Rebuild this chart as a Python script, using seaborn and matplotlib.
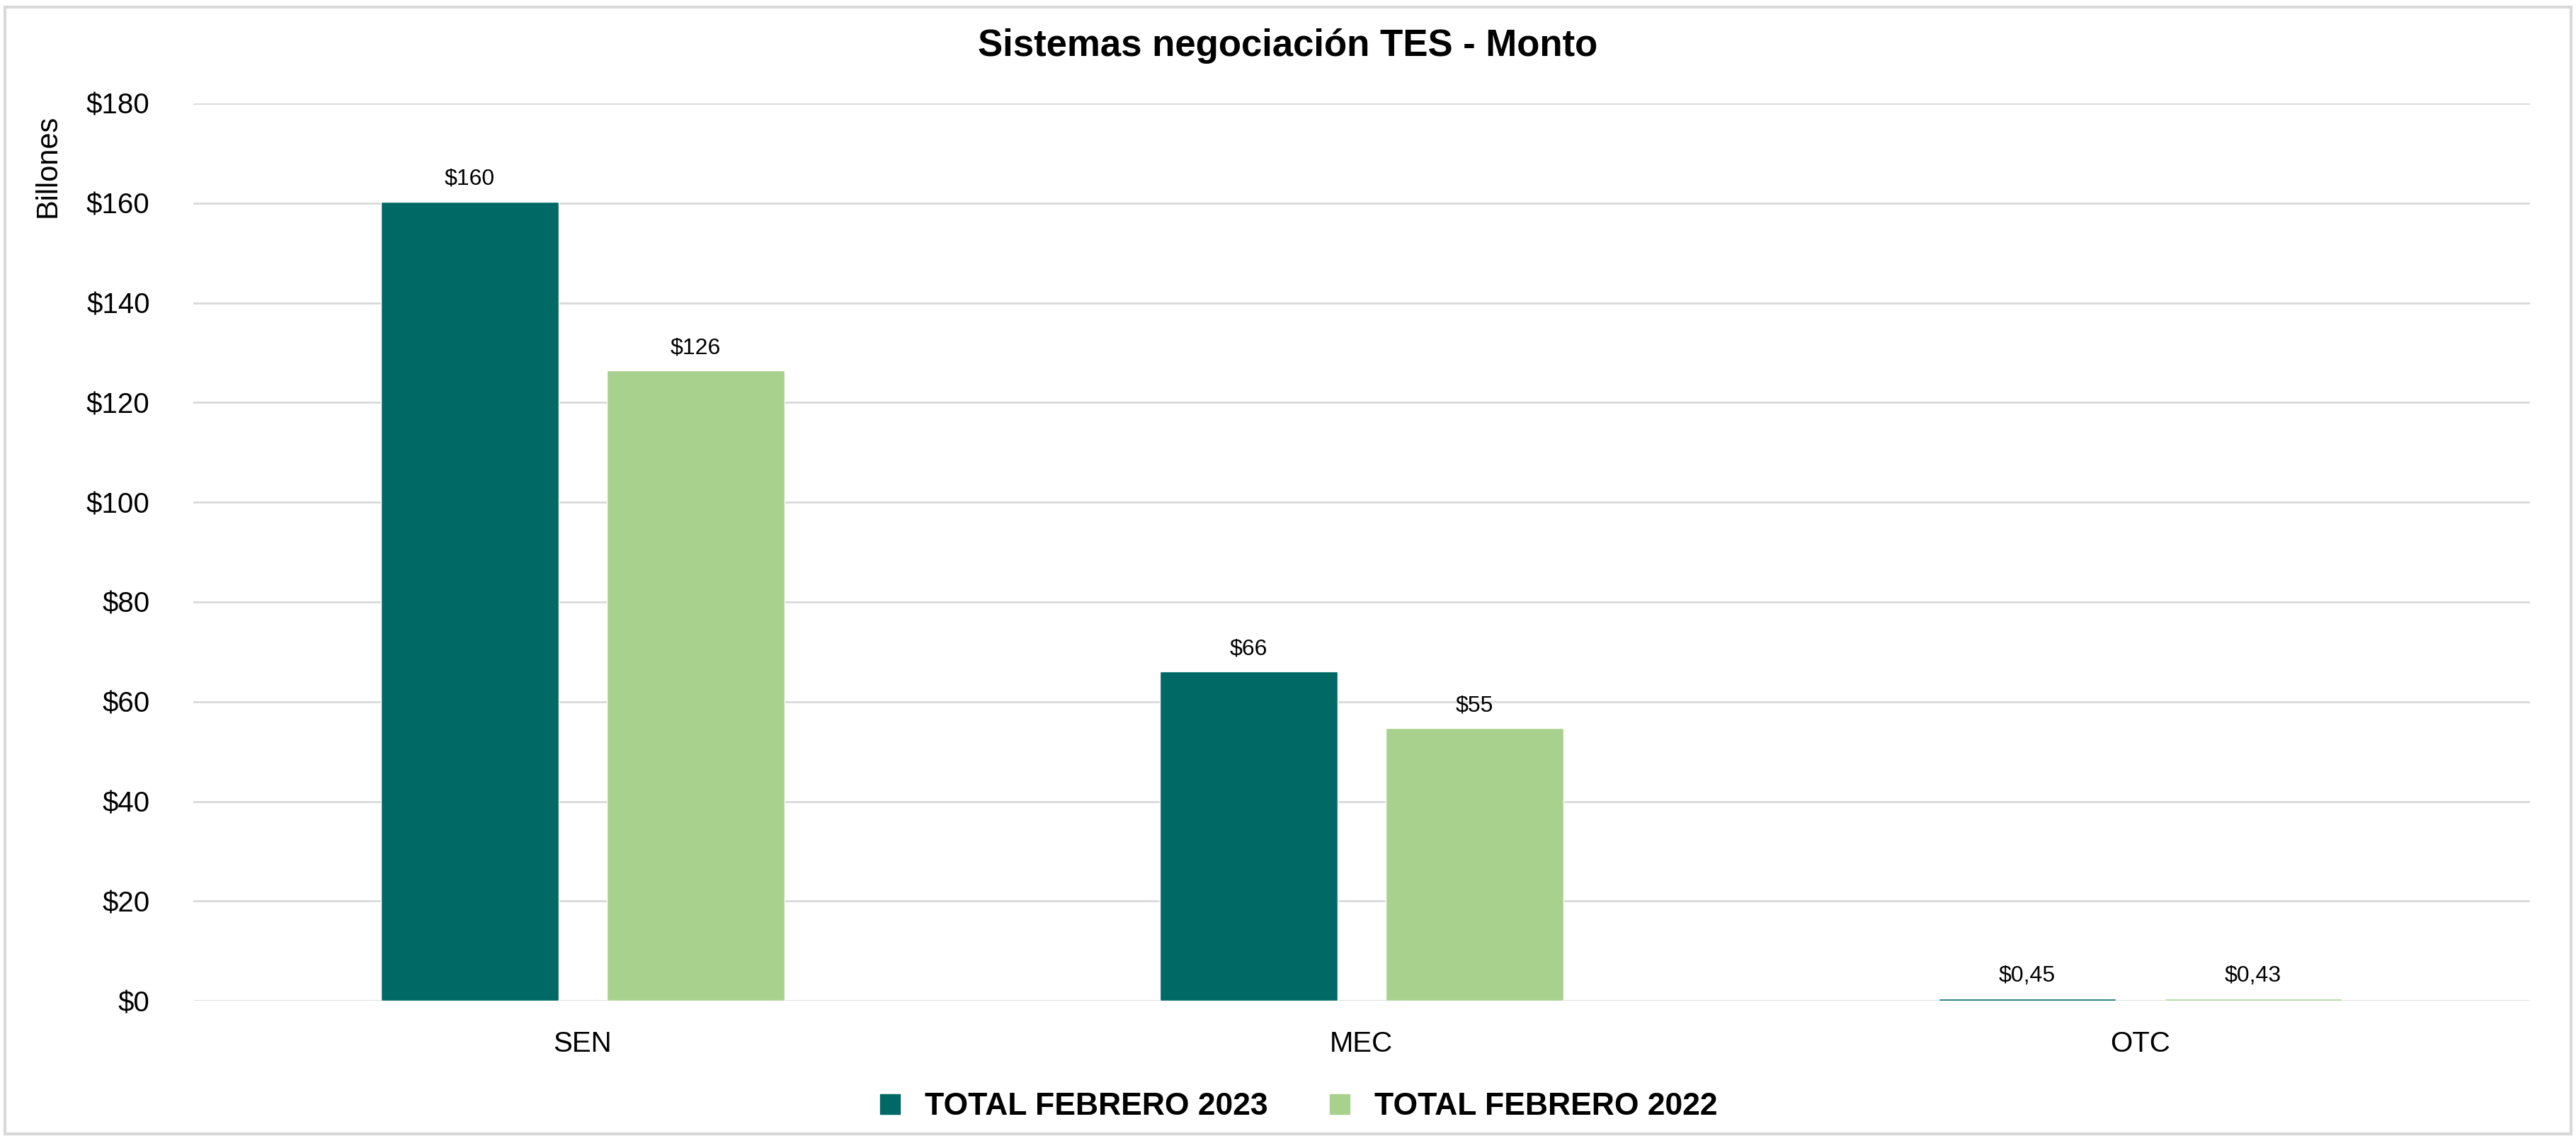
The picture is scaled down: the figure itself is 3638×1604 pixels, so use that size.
import pandas as pd
import numpy as np
import seaborn as sns
import matplotlib.pyplot as plt
from matplotlib.patches import Rectangle
from matplotlib.lines import Line2D

# datos (billones de pesos)
sistemas = ['SEN', 'MEC', 'OTC']
series = ['TOTAL FEBRERO 2023', 'TOTAL FEBRERO 2022']
monto_2023 = [160.3, 66.0, 0.45]
monto_2022 = [126.4, 54.7, 0.43]
yticks = [0, 20, 40, 60, 80, 100, 120, 140, 160, 180]

colores = ['#006966', '#A9D18E']

df = pd.DataFrame({
    'sistema': sistemas * 2,
    'serie': [series[0]] * 3 + [series[1]] * 3,
    'monto': monto_2023 + monto_2022,
})

sns.set_style('white')
plt.rcParams['font.family'] = ['Liberation Sans', 'DejaVu Sans']
plt.rcParams['text.color'] = 'black'
plt.rcParams['xtick.color'] = 'black'
plt.rcParams['ytick.color'] = 'black'
plt.rcParams['axes.labelcolor'] = 'black'

fig = plt.figure(figsize=(36.38, 16.04), dpi=100)
ax = fig.add_axes([0.075, 0.119, 0.907, 0.790])

sns.barplot(data=df, x='sistema', y='monto', hue='serie', order=sistemas, hue_order=series,
            palette=colores, width=0.58, gap=0.214, saturation=1, ax=ax, legend=False)

def fmt_monto(v):
    if v >= 1:
        return f'${v:.0f}'
    return f'${v:.2f}'.replace('.', ',')

for cont in ax.containers:
    ax.bar_label(cont, labels=[fmt_monto(b.get_height()) for b in cont], padding=12,
                 fontsize=23, color='black')

ax.set_ylim(0, 180)
ax.set_yticks(yticks)
ax.set_yticklabels([f'${t}' for t in yticks], fontsize=29)
ax.tick_params(axis='x', labelsize=29, length=0, pad=30)
ax.tick_params(axis='y', length=0, pad=44)
ax.grid(axis='y', color='#D9D9D9', linewidth=2)
ax.set_axisbelow(True)
for s in ax.spines.values():
    s.set_visible(False)
ax.set_xlabel('')
ax.set_ylabel('Billones', fontsize=30, labelpad=10)
ax.yaxis.set_label_coords(-0.056, 0.93)

fig.suptitle('Sistemas negociación TES - Monto', fontsize=38, fontweight='bold', y=0.975)

handles = [Line2D([], [], marker='s', linestyle='', markersize=20, color=c) for c in colores]
leg = fig.legend(handles, series, loc='lower center', bbox_to_anchor=(0.5, -0.012), ncol=2,
                 frameon=False, prop={'size': 32, 'weight': 'bold'}, handletextpad=0.1,
                 columnspacing=1.3)

fig.patches.append(Rectangle((0.002, 0.002), 0.996, 0.992, transform=fig.transFigure,
                             fill=False, edgecolor='#D9D9D9', linewidth=3))

fig.savefig('out.png', dpi=100, facecolor='white')
